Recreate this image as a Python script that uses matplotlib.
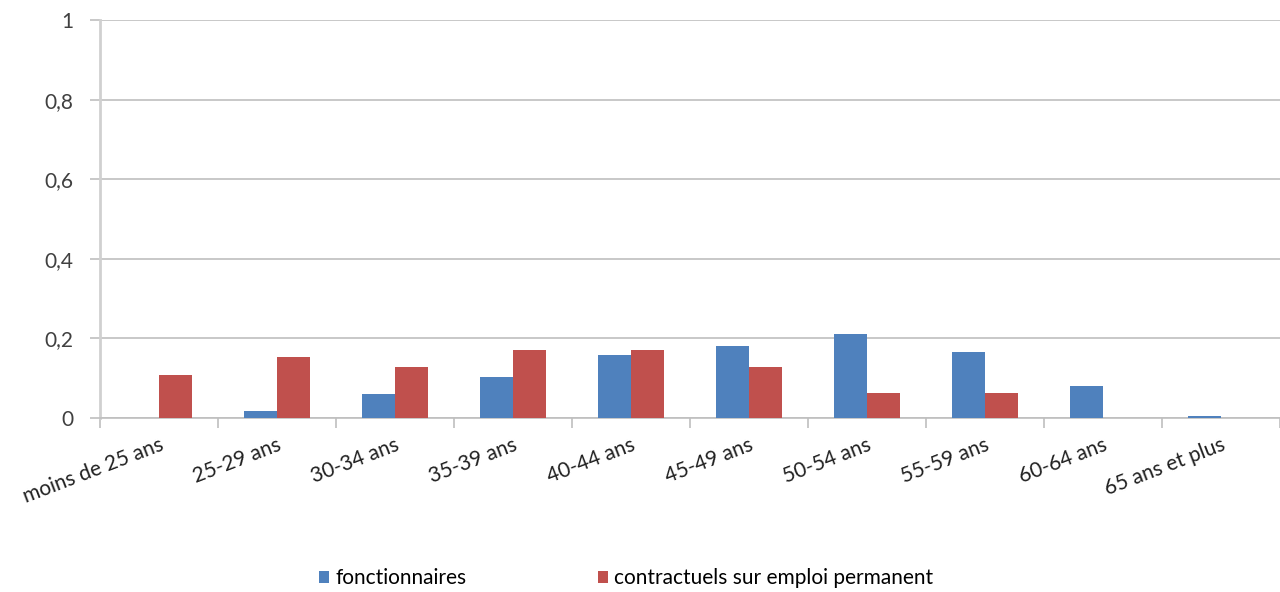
import numpy as np
import matplotlib
matplotlib.use("Agg")
import matplotlib.pyplot as plt

plt.rcParams['font.family'] = ['Lato', 'DejaVu Sans']

# tranches d'age
categories = ['moins de 25 ans', '25-29 ans', '30-34 ans', '35-39 ans', '40-44 ans',
              '45-49 ans', '50-54 ans', '55-59 ans', '60-64 ans', '65 ans et plus']
fonctionnaires = [0.0, 0.017, 0.059, 0.103, 0.159, 0.182, 0.211, 0.167, 0.080, 0.006]
contractuels = [0.107, 0.152, 0.128, 0.172, 0.172, 0.128, 0.063, 0.063, 0.0, 0.0]
yticks = [0, 0.2, 0.4, 0.6, 0.8, 1]
ylabels = ['0', '0,2', '0,4', '0,6', '0,8', '1']

fig = plt.figure(figsize=(12.8, 5.92), dpi=100)
ax = fig.add_axes([0.078, 0.294, 0.922, 0.672])

x = np.arange(len(categories))
w = 0.28
ax.bar(x - w/2, fonctionnaires, w, color='#4F81BD', label='fonctionnaires', zorder=3)
ax.bar(x + w/2, contractuels, w, color='#C0504D', label='contractuels sur emploi permanent', zorder=3)

ax.set_xlim(-0.5, len(categories) - 0.5)
ax.set_ylim(0, 1)
ax.set_yticks(yticks)
ax.set_yticklabels(ylabels, fontsize=15, color='#404040')
ax.yaxis.grid(True, color='#bfbfbf', linewidth=1.2, zorder=0)

# ticks at category boundaries, labels at centers
ax.set_xticks(np.arange(len(categories) + 1) - 0.5)
ax.set_xticklabels([])
ax.set_xticks(x, minor=True)
ax.set_xticklabels(categories, minor=True, rotation=21, ha='right',
                   rotation_mode='anchor', fontsize=15, color='#202020')
ax.tick_params(axis='x', which='minor', length=0, pad=12)
ax.tick_params(axis='x', which='major', length=7, color='#bfbfbf', width=1.2)
ax.tick_params(axis='y', length=7, color='#bfbfbf', width=1.2, pad=12)

for s in ['top', 'right']:
    ax.spines[s].set_visible(False)
ax.spines['left'].set_color('#d0d0d0')
ax.spines['left'].set_linewidth(2)
ax.spines['bottom'].set_color('#bfbfbf')
ax.spines['bottom'].set_linewidth(1.2)

fig.legend(loc='center', bbox_to_anchor=(0.489, 0.023), ncol=2, frameon=False,
           fontsize=15, handlelength=0.5, handleheight=0.5, handletextpad=0.3,
           columnspacing=6.3)

fig.savefig('out.png', dpi=100)
